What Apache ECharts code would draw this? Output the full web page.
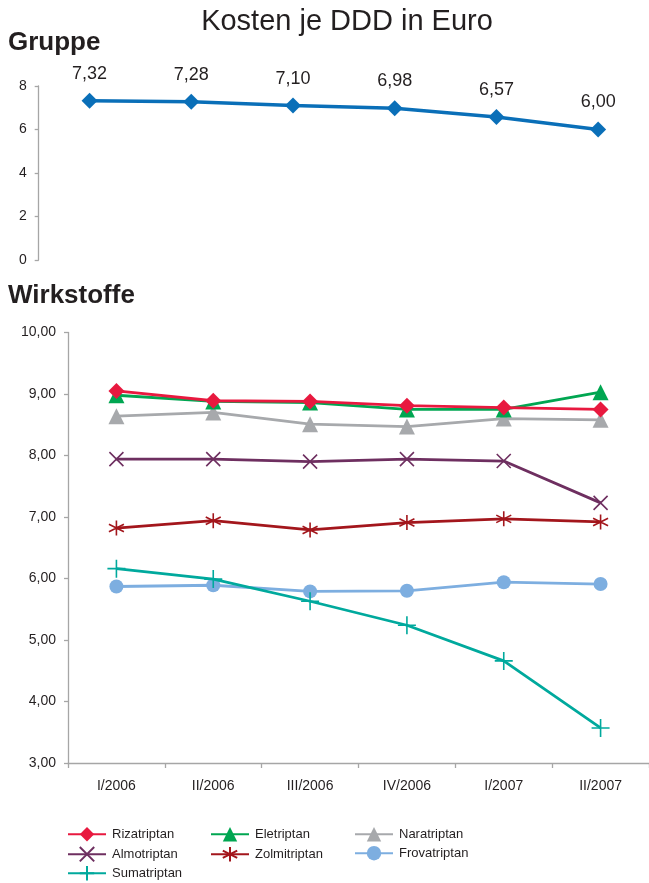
<!DOCTYPE html>
<html>
<head>
<meta charset="utf-8">
<script src="https://cdn.jsdelivr.net/npm/echarts@6/dist/echarts.min.js"></script>
<style>
  html, body { margin: 0; padding: 0; background: #fff; }
  #chart { width: 649px; height: 883px; }
</style>
</head>
<body>
<div id="chart"></div>
<script>
// Quarters
const quarters = ['I/2006', 'II/2006', 'III/2006', 'IV/2006', 'I/2007', 'II/2007'];

// Cost per DDD (Euro), whole group
const gruppe = [7.32, 7.28, 7.10, 6.98, 6.57, 6.00];

// Cost per DDD (Euro), single substances
const rizatriptan  = [9.05, 8.89, 8.88, 8.81, 8.78, 8.75];
const eletriptan   = [8.98, 8.88, 8.86, 8.75, 8.75, 9.03];
const naratriptan  = [8.64, 8.70, 8.51, 8.47, 8.60, 8.58];
const almotriptan  = [7.94, 7.94, 7.90, 7.94, 7.91, 7.23];
const zolmitriptan = [6.82, 6.94, 6.79, 6.91, 6.97, 6.92];
const frovatriptan = [5.87, 5.89, 5.79, 5.80, 5.94, 5.91];
const sumatriptan  = [6.16, 5.99, 5.63, 5.24, 4.66, 3.57];

const groupTicks = [0, 2, 4, 6, 8];
const substanceTicks = [3, 4, 5, 6, 7, 8, 9, 10];

const FONT = '"Liberation Sans", Arial, Helvetica, sans-serif';
const TEXT = '#231F20';
const AXIS = '#A6A6A6';
const comma = v => v.toFixed(2).replace('.', ',');

const SYM_X = 'path://M0,0L10,10M10,0L0,10';
const SYM_STAR = 'path://M5,0L5,10M0.7,2.5L9.3,7.5M9.3,2.5L0.7,7.5';
const SYM_PLUS = 'path://M5,0L5,10M0,5L10,5';

const substances = [
  { name: 'Rizatriptan',  data: rizatriptan,  color: '#E8193F', symbol: 'diamond',  size: 16, z: 9 },
  { name: 'Eletriptan',   data: eletriptan,   color: '#00A651', symbol: 'triangle', size: 16, z: 8 },
  { name: 'Naratriptan',  data: naratriptan,  color: '#A7A9AC', symbol: 'triangle', size: 16, z: 7 },
  { name: 'Almotriptan',  data: almotriptan,  color: '#6E2F60', symbol: SYM_X,      size: 14, z: 6, stroke: true },
  { name: 'Zolmitriptan', data: zolmitriptan, color: '#A3161C', symbol: SYM_STAR,   size: 15, z: 5, stroke: true },
  { name: 'Frovatriptan', data: frovatriptan, color: '#7DAEE0', symbol: 'circle',   size: 14, z: 3 },
  { name: 'Sumatriptan',  data: sumatriptan,  color: '#00A99D', symbol: SYM_PLUS,   size: 18, z: 4, stroke: true }
];

// legend slot per substance: [left, top]
const legendSlots = [
  [67, 827], [210, 827], [354, 827],
  [67, 846], [210, 846], [354, 846],
  [67, 865]
];

const chart = echarts.init(document.getElementById('chart'));

const option = {
  animation: false,
  backgroundColor: '#fff',
  textStyle: { fontFamily: FONT },
  graphic: [
    { type: 'text', x: 347, y: 22, style: { text: 'Kosten je DDD in Euro', align: 'center', verticalAlign: 'middle',
      font: 'normal 29px ' + FONT, fill: TEXT } },
    { type: 'text', x: 8, y: 43, style: { text: 'Gruppe', align: 'left', verticalAlign: 'middle',
      font: 'bold 26px ' + FONT, fill: TEXT } },
    { type: 'text', x: 8, y: 296, style: { text: 'Wirkstoffe', align: 'left', verticalAlign: 'middle',
      font: 'bold 26px ' + FONT, fill: TEXT } }
  ],
  grid: [
    { left: 38.7, top: 86, width: 616, height: 174 },
    { left: 68, top: 332.5, width: 586, height: 430.5 }
  ],
  xAxis: [
    { type: 'category', gridIndex: 0, data: quarters, boundaryGap: true,
      axisLine: { show: false }, axisTick: { show: false }, axisLabel: { show: false } },
    { type: 'category', gridIndex: 1, data: quarters, boundaryGap: true,
      axisLine: { lineStyle: { color: AXIS, width: 1.3 } },
      axisTick: { show: true, length: 5, lineStyle: { color: AXIS, width: 1.3 } },
      axisLabel: { margin: 16, fontSize: 14, color: TEXT, fontFamily: FONT } }
  ],
  yAxis: [
    { type: 'value', gridIndex: 0, min: groupTicks[0], max: groupTicks[groupTicks.length - 1], interval: 2,
      axisLine: { show: true, lineStyle: { color: AXIS, width: 1.3 } },
      axisTick: { show: true, length: 4, lineStyle: { color: AXIS, width: 1.3 } },
      splitLine: { show: false },
      axisLabel: { margin: 12, fontSize: 14, color: TEXT, fontFamily: FONT } },
    { type: 'value', gridIndex: 1, min: substanceTicks[0], max: substanceTicks[substanceTicks.length - 1], interval: 1,
      axisLine: { show: true, lineStyle: { color: AXIS, width: 1.3 } },
      axisTick: { show: true, length: 4, lineStyle: { color: AXIS, width: 1.3 } },
      splitLine: { show: false },
      axisLabel: { margin: 12, fontSize: 14, color: TEXT, fontFamily: FONT, formatter: v => comma(v) } }
  ],
  legend: substances.map((s, i) => ({
    data: [s.name],
    left: legendSlots[i][0],
    top: legendSlots[i][1],
    padding: 0,
    itemWidth: 38,
    itemHeight: 18,
    itemGap: 0,
    selectedMode: false,
    textStyle: { fontSize: 13, color: TEXT, fontFamily: FONT, padding: [0, 0, 0, 1] }
  })),
  series: [
    {
      name: 'Gruppe', type: 'line', xAxisIndex: 0, yAxisIndex: 0,
      data: gruppe, symbol: 'diamond', symbolSize: 16,
      lineStyle: { color: '#0A6FB8', width: 3.5 },
      itemStyle: { color: '#0A6FB8' },
      label: { show: true, position: 'top', distance: 10, fontSize: 18, color: TEXT,
               fontFamily: FONT, formatter: p => comma(p.value) },
      z: 3
    }
  ].concat(substances.map(s => ({
    name: s.name, type: 'line', xAxisIndex: 1, yAxisIndex: 1,
    data: s.data, symbol: s.symbol, symbolSize: s.size,
    lineStyle: { color: s.color, width: 2.8 },
    itemStyle: s.stroke
      ? { color: s.color, borderColor: s.color, borderWidth: 1.6 }
      : { color: s.color },
    z: s.z
  })))
};

chart.setOption(option);
</script>
</body>
</html>
